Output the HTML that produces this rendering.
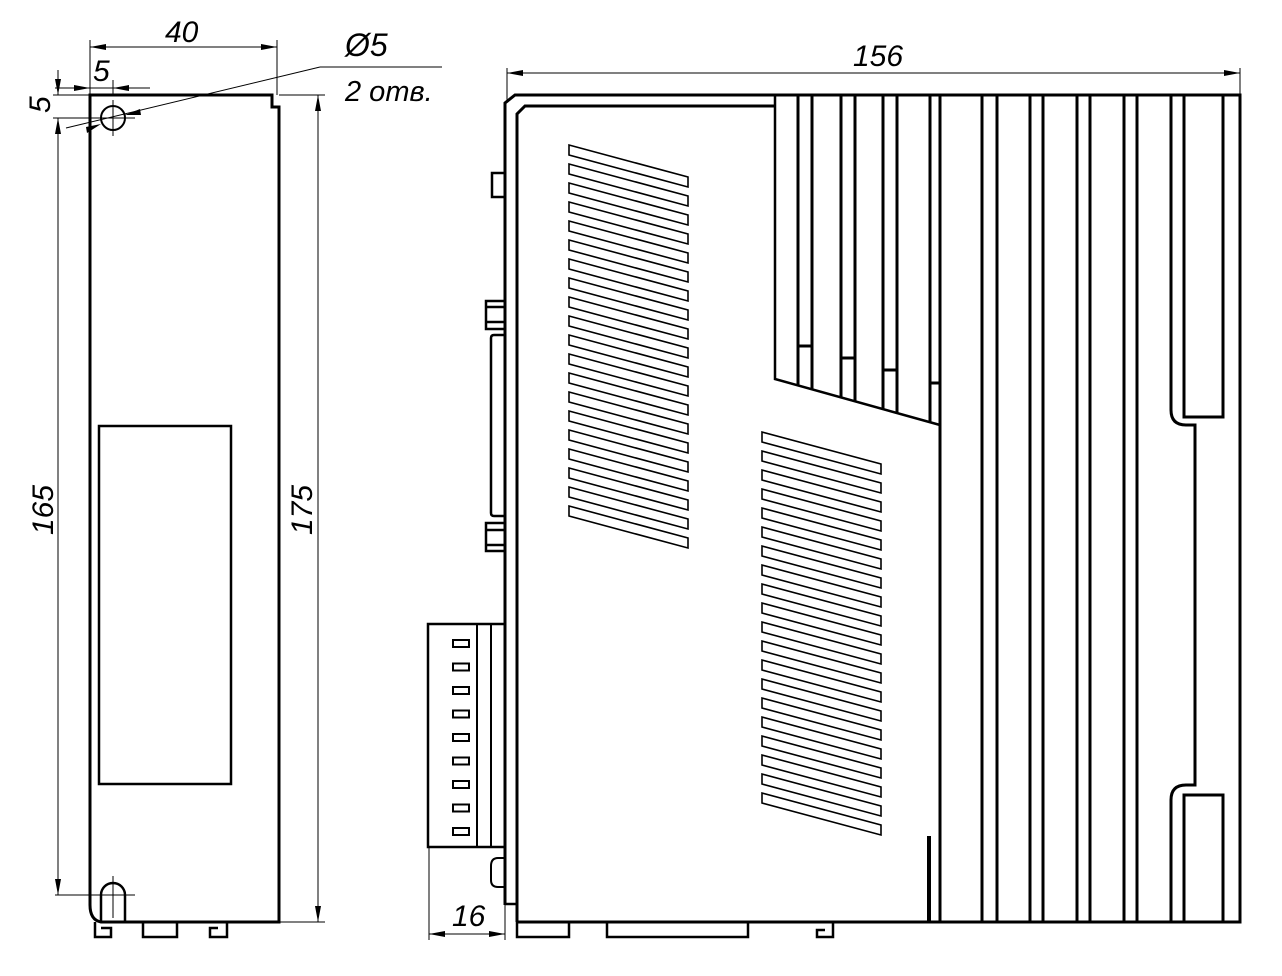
<!DOCTYPE html>
<html><head><meta charset="utf-8"><style>
html,body{margin:0;padding:0;background:#fff;}
svg{display:block;}
text{font-family:"Liberation Sans",sans-serif;font-style:italic;fill:#000;}
</style></head><body>
<svg width="1282" height="976" viewBox="0 0 1282 976" xmlns="http://www.w3.org/2000/svg">
<defs>
<polygon id="s" points="0,0 119,32 119,42 0,10" fill="none" stroke="#000" stroke-width="1.6"/>
<rect id="t" x="0" y="0" width="16" height="7" fill="none" stroke="#000" stroke-width="2"/>
</defs>
<g fill="none" stroke="#000">
<path d="M90,95 H272 V107 H279 V922 H101 Q90,920 90,905 Z" stroke-width="3"/>
<rect x="99" y="426" width="132" height="358" stroke-width="2.5"/>
<circle cx="113" cy="118" r="12" stroke-width="2"/>
<path d="M101,922 V895 A12,12 0 0 1 125,895 V922" stroke-width="2.5"/>
<path d="M113,876 V918 M55,895 H135 M113,100 V136 M95,118 H135" stroke-width="1"/>
<path d="M95,922 V937 H111 V928 H101" stroke-width="2.5"/>
<rect x="143" y="922" width="34" height="15" stroke-width="2.5"/>
<path d="M227,922 V937 H210 V928 H218" stroke-width="2.5"/>
<path d="M90,40 V95 M277,40 V95 M90,47 H277" stroke-width="1"/>
<path d="M53,95 H90 M53,118 H95 M58,70 V95 M58,118 V895 M55,88 H150 M113,80 V95" stroke-width="1"/>
<path d="M279,95 H325 M279,922 H325 M318,95 V922" stroke-width="1"/>
<path d="M320,67 H442 M320,67 L66,128" stroke-width="1"/>
</g>
<g fill="#000">
<polygon points="90,47 106,44 106,50"/><polygon points="277,47 261,44 261,50"/>
<polygon points="90,88 74,85 74,91"/><polygon points="113,88 129,85 129,91"/>
<polygon points="58,95 55,79 61,79"/><polygon points="58,118 55,134 61,134"/>
<polygon points="58,895 55,879 61,879"/>
<polygon points="318,95 315,111 321,111"/><polygon points="318,922 315,906 321,906"/>
<polygon points="125,115 140,109 141,115"/><polygon points="101,124 86,127 87,133"/>
</g>
<text x="165" y="42" font-size="30">40</text>
<text x="93" y="81" font-size="30">5</text>
<text transform="translate(50,113) rotate(-90)" font-size="30">5</text>
<text transform="translate(53,535) rotate(-90)" font-size="30">165</text>
<text transform="translate(312,535) rotate(-90)" font-size="30">175</text>
<text x="345" y="56" font-size="32">Ø5</text>
<text x="345" y="101" font-size="29">2 отв.</text>

<g fill="none" stroke="#000">
<path d="M505,905 V103 L515,95 H1240 V922 H517" stroke-width="3"/>
<path d="M505,904 H517" stroke-width="2.5"/>
<path d="M517,922 V114 L525,106 H775" stroke-width="3"/>
<rect x="492" y="173" width="13" height="24" stroke-width="2.5"/>
<path d="M505,301 H486 V329 H505 M486,307 H505 M486,322 H505" stroke-width="2.5"/>
<path d="M505,335 H494 Q491,335 491,338 V513 Q491,516 494,516 H505" stroke-width="2.5"/>
<path d="M505,523 H486 V551 H505 M486,530 H505 M486,545 H505" stroke-width="2.5"/>
<rect x="428" y="624" width="77" height="223" stroke-width="2.5"/>
<path d="M477,624 V847 M491,624 V847" stroke-width="2"/>
<path d="M505,858 H498 Q491,858 491,866 V880 Q491,887 498,887 H505" stroke-width="2"/>
<rect x="517" y="922" width="52" height="15" stroke-width="2.5"/>
<rect x="607" y="922" width="141" height="15" stroke-width="2.5"/>
<path d="M833,922 V937 H817 V930 H825" stroke-width="2.5"/>
<path d="M775,95 V379 L940,425" stroke-width="2.5"/>
<path d="M940,95 V922" stroke-width="3"/>
<path d="M798,95 V386 M812,95 V390 M798,346 H812 M841,95 V398 M855,95 V402 M841,358 H855 M883,95 V410 M897,95 V414 M883,370 H897 M930,95 V422 M930,383 H940" stroke-width="3"/>
<path d="M982,95 V922 M997,95 V922 M1030,95 V922 M1043,95 V922 M1077,95 V922 M1090,95 V922 M1124,95 V922 M1137,95 V922" stroke-width="3"/>
<path d="M1171,95 V410 Q1171,425 1186,425 H1195 V785 H1186 Q1171,785 1171,800 V922" stroke-width="3"/>
<path d="M1184,95 V417 H1223 V95" stroke-width="3"/>
<path d="M1184,922 V795 H1223 V922" stroke-width="3"/>
<path d="M929,836 V922" stroke-width="4"/>
<path d="M507,68 V100 M1240,68 V95 M507,73 H1240" stroke-width="1"/>
<path d="M429,847 V940 M505,905 V940 M429,934 H505" stroke-width="1"/>
</g>
<g fill="#000">
<polygon points="507,73 523,70 523,76"/><polygon points="1240,73 1224,70 1224,76"/>
<polygon points="429,934 445,931 445,937"/><polygon points="505,934 489,931 489,937"/>
</g>
<g transform="translate(453,640)">
<use href="#t" y="0"/><use href="#t" y="23.5"/><use href="#t" y="47"/><use href="#t" y="70.5"/><use href="#t" y="94"/><use href="#t" y="117.5"/><use href="#t" y="141"/><use href="#t" y="164.5"/><use href="#t" y="188"/>
</g>
<g transform="translate(569,145)">
<use href="#s" y="0"/><use href="#s" y="19"/><use href="#s" y="38"/><use href="#s" y="57"/><use href="#s" y="76"/><use href="#s" y="95"/><use href="#s" y="114"/><use href="#s" y="133"/><use href="#s" y="152"/><use href="#s" y="171"/><use href="#s" y="190"/><use href="#s" y="209"/><use href="#s" y="228"/><use href="#s" y="247"/><use href="#s" y="266"/><use href="#s" y="285"/><use href="#s" y="304"/><use href="#s" y="323"/><use href="#s" y="342"/><use href="#s" y="361"/>
</g>
<g transform="translate(762,432)">
<use href="#s" y="0"/><use href="#s" y="19"/><use href="#s" y="38"/><use href="#s" y="57"/><use href="#s" y="76"/><use href="#s" y="95"/><use href="#s" y="114"/><use href="#s" y="133"/><use href="#s" y="152"/><use href="#s" y="171"/><use href="#s" y="190"/><use href="#s" y="209"/><use href="#s" y="228"/><use href="#s" y="247"/><use href="#s" y="266"/><use href="#s" y="285"/><use href="#s" y="304"/><use href="#s" y="323"/><use href="#s" y="342"/><use href="#s" y="361"/>
</g>
<text x="853" y="66" font-size="30">156</text>
<text x="452" y="926" font-size="30">16</text>
</svg>
</body></html>
